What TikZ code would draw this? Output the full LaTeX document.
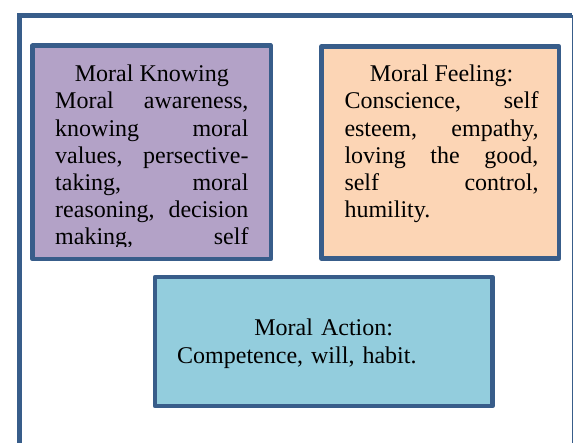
\documentclass[tikz,border=0pt]{standalone}
\usepackage{fontspec}
\setmainfont{Liberation Serif}
\usepackage{xcolor}
\usepackage{tikz}

\definecolor{frameblue}{HTML}{385D8A}
\definecolor{knowfill}{HTML}{B3A2C7}
\definecolor{feelfill}{HTML}{FCD5B5}
\definecolor{actfill}{HTML}{93CDDD}

\begin{document}
\begin{tikzpicture}[x=1pt,y=1pt,
boxcell/.style={draw=frameblue,line width=4.6pt,line join=round,inner sep=0pt},
kcell/.style={boxcell,fill=knowfill,minimum width=238.3pt,minimum height=213.2pt},
fcell/.style={boxcell,fill=feelfill,minimum width=237.4pt,minimum height=212pt},
acell/.style={boxcell,fill=actfill,minimum width=337.5pt,minimum height=129pt},
txtcell/.style={inner sep=0pt,anchor=base west,font=\fontsize{24}{27.2}\selectfont}
]
\useasboundingbox (0,0) rectangle (573,443);

% outer frame
\draw[frameblue,line width=5pt] (19.5,-3) -- (19.5,427.5) -- (571.5,427.5);
\draw[frameblue,line width=1pt] (572,427.5) -- (572,-3);

\node[kcell](kb) at (151.65,290.6) {};
\node[fcell](fb) at (440.3,290.5) {};
\node[acell](ab) at (323.75,101.5) {};

% knowing text is cut at the bottom
\begin{scope}
\clip (32.5,196) rectangle (270.8,397);
\node[txtcell,text width=193.3pt,align=justify](kt) at (55,361.3)
{\makebox[\linewidth]{Moral Knowing}\\
Moral awareness,\linebreak
knowing moral\linebreak
values, persective-\linebreak
taking, moral\linebreak
reasoning, decision\linebreak
making,\hfill self};
\end{scope}

\node[txtcell,text width=194pt,align=justify](ft) at (344.3,361.3)
{\makebox[\linewidth]{Moral Feeling:}\\
Conscience, self\linebreak
esteem, empathy,\linebreak
loving the good,\linebreak
self control,\linebreak
humility.};

\node[txtcell,text width=293pt,align=left,font=\fontsize{24}{28}\selectfont](act) at (177,107)
{\makebox[\linewidth]{Moral Action:}\\
Competence, will, habit.};

\end{tikzpicture}
\end{document}
